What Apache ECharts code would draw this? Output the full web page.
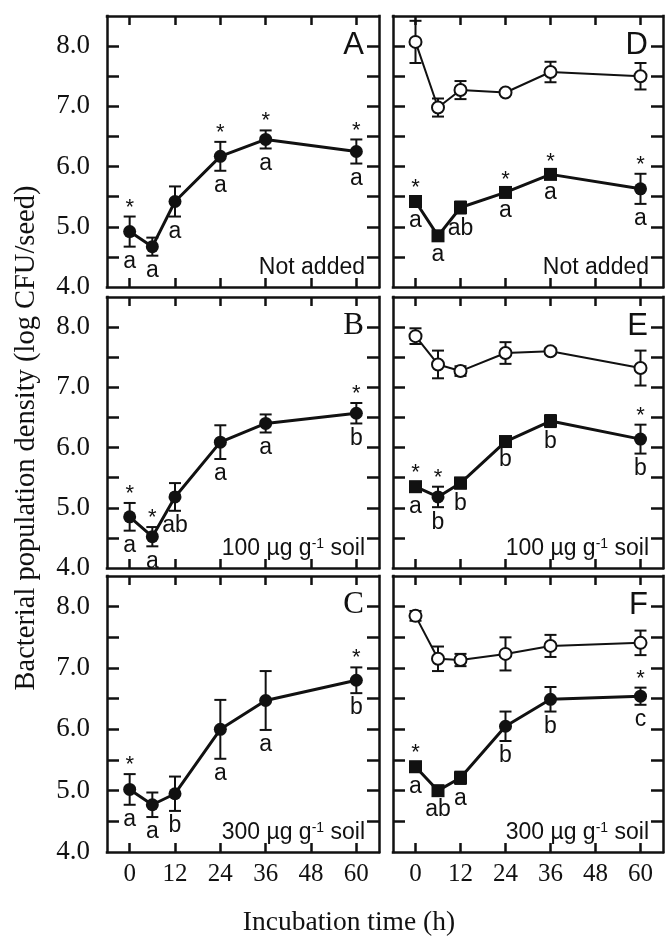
<!DOCTYPE html>
<html>
<head>
<meta charset="utf-8">
<title>Bacterial population density</title>
<script src="https://cdn.jsdelivr.net/npm/echarts@6/dist/echarts.min.js"></script>
<style>
  html, body { margin: 0; padding: 0; background: #fff; }
  #chart { width: 667px; height: 941px; }
</style>
</head>
<body>
<div id="chart"></div>
<script>
// sampling times (h) and axis ticks
const hours = [0, 6, 12, 24, 36, 60];
const xTickValues = [0, 12, 24, 36, 48, 60];
const yTickValues = [4.5, 5, 5.5, 6, 6.5, 7, 7.5, 8];
const yLabelValues = [4, 5, 6, 7, 8];

// A - not added
const meanA = [4.92, 4.67, 5.42, 6.17, 6.45, 6.25];
const errA = [0.25, 0.15, 0.25, 0.24, 0.15, 0.2];
const starA = ['*', '', '', '*', '*', '*'];
const letterA = ['a', 'a', 'a', 'a', 'a', 'a'];

// B - 100 ug/g soil
const meanB = [4.85, 4.52, 5.18, 6.09, 6.4, 6.57];
const errB = [0.23, 0.16, 0.23, 0.28, 0.15, 0.17];
const starB = ['*', '*', '', '', '', '*'];
const letterB = ['a', 'a', 'ab', 'a', 'a', 'b'];

// C - 300 ug/g soil
const meanC = [5.02, 4.77, 4.95, 6.0, 6.47, 6.8];
const errC = [0.25, 0.2, 0.28, 0.48, 0.48, 0.21];
const starC = ['*', '', '', '', '', '*'];
const letterC = ['a', 'a', 'b', 'a', 'a', 'b'];

// D - not added (open = upper series, filled = lower series)
const meanDOpen = [8.07, 6.98, 7.27, 7.23, 7.57, 7.5];
const errDOpen = [0.35, 0.15, 0.15, 0.03, 0.17, 0.22];
const meanDFill = [5.42, 4.85, 5.32, 5.57, 5.87, 5.63];
const errDFill = [0.07, 0.07, 0.1, 0.06, 0.06, 0.25];
const starD = ['*', '', '', '*', '*', '*'];
const letterD = ['a', 'a', 'ab', 'a', 'a', 'a'];

// E - 100 ug/g soil
const meanEOpen = [7.85, 7.38, 7.27, 7.57, 7.6, 7.32];
const errEOpen = [0.13, 0.23, 0.08, 0.18, 0.05, 0.29];
const meanEFill = [5.35, 5.18, 5.41, 6.1, 6.44, 6.14];
const errEFill = [0.08, 0.17, 0.09, 0.06, 0.1, 0.24];
const starE = ['*', '*', '', '', '', '*'];
const letterE = ['a', 'b', 'b', 'b', 'b', 'b'];

// F - 300 ug/g soil
const meanFOpen = [7.85, 7.15, 7.13, 7.23, 7.36, 7.41];
const errFOpen = [0.08, 0.2, 0.1, 0.27, 0.18, 0.2];
const meanFFill = [5.39, 5.0, 5.21, 6.05, 6.49, 6.54];
const errFFill = [0.08, 0.07, 0.1, 0.24, 0.2, 0.14];
const starF = ['*', '', '', '', '', '*'];
const letterF = ['a', 'ab', 'a', 'b', 'b', 'c'];

// marker shapes of the filled series in the right column
const markerD = ['rect', 'rect', 'rect', 'rect', 'rect', 'circle'];
const markerE = ['rect', 'circle', 'rect', 'rect', 'rect', 'circle'];
const markerF = ['rect', 'rect', 'rect', 'circle', 'circle', 'circle'];
const markerRound = ['circle', 'circle', 'circle', 'circle', 'circle', 'circle'];

const ink = '#111';
const serif = '"Liberation Serif", "Times New Roman", serif';
const sans = '"Liberation Sans", Arial, sans-serif';

const colLeft = [107, 393];
const colWidth = [272, 270];
const rowTop = [16, 297, 576];
const rowHeight = [271, 271, 276];

const noteSoil100 = '{n|100 µg g}{s|-1}{n| soil}';
const noteSoil300 = '{n|300 µg g}{s|-1}{n| soil}';

const panels = [
  { tag: 'A', tagFont: sans, col: 0, row: 0, note: 'Not added',
    lines: [{ mean: meanA, err: errA, marker: markerRound, open: false, stars: starA, letters: letterA }] },
  { tag: 'B', tagFont: serif, col: 0, row: 1, note: noteSoil100,
    lines: [{ mean: meanB, err: errB, marker: markerRound, open: false, stars: starB, letters: letterB }] },
  { tag: 'C', tagFont: serif, col: 0, row: 2, note: noteSoil300,
    lines: [{ mean: meanC, err: errC, marker: markerRound, open: false, stars: starC, letters: letterC }] },
  { tag: 'D', tagFont: sans, col: 1, row: 0, note: 'Not added',
    lines: [{ mean: meanDOpen, err: errDOpen, marker: markerRound, open: true },
            { mean: meanDFill, err: errDFill, marker: markerD, open: false, stars: starD, letters: letterD }] },
  { tag: 'E', tagFont: sans, col: 1, row: 1, note: noteSoil100,
    lines: [{ mean: meanEOpen, err: errEOpen, marker: markerRound, open: true },
            { mean: meanEFill, err: errEFill, marker: markerE, open: false, stars: starE, letters: letterE }] },
  { tag: 'F', tagFont: sans, col: 1, row: 2, note: noteSoil300,
    lines: [{ mean: meanFOpen, err: errFOpen, marker: markerRound, open: true },
            { mean: meanFFill, err: errFFill, marker: markerF, open: false, stars: starF, letters: letterF }] }
];

const xMin = -6, xMax = 66, yMin = 4, yMax = 8.5;
const frameStyle = { color: ink, width: 2.5, cap: 'square' };

const grids = [];
const xAxes = [];
const yAxes = [];
const series = [];
const graphics = [];

panels.forEach((p, i) => {
  const left = colLeft[p.col];
  const top = rowTop[p.row];
  const width = colWidth[p.col];
  const height = rowHeight[p.row];

  grids.push({ left: left, top: top, width: width, height: height, show: false });

  // four axis lines make the panel frame, ticks point inward
  ['bottom', 'top'].forEach(pos => {
    xAxes.push({
      type: 'value', gridIndex: i, position: pos, min: xMin, max: xMax,
      axisLine: { show: true, onZero: false, lineStyle: frameStyle },
      splitLine: { show: false },
      axisTick: { show: true, inside: true, length: 9, customValues: xTickValues,
                  lineStyle: { color: ink, width: 2.5 } },
      axisLabel: {
        show: pos === 'bottom' && p.row === 2,
        customValues: xTickValues,
        margin: 10,
        color: ink, fontFamily: serif, fontSize: 25
      }
    });
  });

  ['left', 'right'].forEach(pos => {
    yAxes.push({
      type: 'value', gridIndex: i, position: pos, min: yMin, max: yMax,
      axisLine: { show: true, onZero: false, lineStyle: frameStyle },
      splitLine: { show: false },
      axisTick: { show: true, inside: true, length: 12, customValues: yTickValues,
                  lineStyle: { color: ink, width: 2.5 } },
      axisLabel: {
        show: pos === 'left' && p.col === 0,
        customValues: yLabelValues,
        formatter: v => v.toFixed(1),
        margin: 17,
        color: ink, fontFamily: serif, fontSize: 27
      }
    });
  });

  const xi = i * 2;
  const yi = i * 2;

  p.lines.forEach(ln => {
    // error bars
    series.push({
      type: 'custom', xAxisIndex: xi, yAxisIndex: yi, z: 2, silent: true, clip: false,
      data: hours.map((h, k) => [h, ln.mean[k] - ln.err[k], ln.mean[k] + ln.err[k]]),
      renderItem: (params, api) => {
        const hi = api.coord([api.value(0), api.value(2)]);
        const lo = api.coord([api.value(0), api.value(1)]);
        const cw = 6;
        const st = { stroke: ink, lineWidth: 2 };
        return {
          type: 'group',
          children: [
            { type: 'line', shape: { x1: hi[0], y1: hi[1], x2: lo[0], y2: lo[1] }, style: st },
            { type: 'line', shape: { x1: hi[0] - cw, y1: hi[1], x2: hi[0] + cw, y2: hi[1] }, style: st },
            { type: 'line', shape: { x1: lo[0] - cw, y1: lo[1], x2: lo[0] + cw, y2: lo[1] }, style: st }
          ]
        };
      }
    });

    // means
    series.push({
      type: 'line', xAxisIndex: xi, yAxisIndex: yi, z: 3, silent: true,
      data: hours.map((h, k) => ({ value: [h, ln.mean[k]], symbol: ln.marker[k] })),
      symbolSize: ln.open ? 12 : 13,
      lineStyle: { color: ink, width: ln.open ? 2 : 3 },
      itemStyle: ln.open
        ? { color: '#fff', borderColor: ink, borderWidth: 2 }
        : { color: ink, borderColor: ink, borderWidth: 0 }
    });

    // significance marks (* above, letters below)
    if (ln.stars) {
      series.push({
        type: 'custom', xAxisIndex: xi, yAxisIndex: yi, z: 4, silent: true, clip: false,
        data: hours.map((h, k) => [h, ln.mean[k] - ln.err[k], ln.mean[k] + ln.err[k]]),
        renderItem: (params, api) => {
          const k = params.dataIndex;
          const hi = api.coord([api.value(0), api.value(2)]);
          const lo = api.coord([api.value(0), api.value(1)]);
          return {
            type: 'group',
            children: [
              { type: 'text', x: hi[0], y: hi[1] - 9,
                style: { text: ln.stars[k], fill: ink, font: '22px ' + sans, align: 'center', verticalAlign: 'middle' } },
              { type: 'text', x: lo[0], y: lo[1] + 15,
                style: { text: ln.letters[k], fill: ink, font: '23px ' + sans, align: 'center', verticalAlign: 'middle' } }
            ]
          };
        }
      });
    }
  });

  // panel letter
  graphics.push({
    type: 'text', x: left + width - 15, y: top + 29,
    style: { text: p.tag, fill: ink, fontFamily: p.tagFont, fontSize: 31, align: 'right', verticalAlign: 'middle' }
  });
  // treatment note
  graphics.push({
    type: 'text', x: left + width - 14, y: top + height - 8,
    style: {
      text: p.note, fill: ink, align: 'right', verticalAlign: 'bottom',
      fontFamily: sans, fontSize: 23,
      rich: {
        n: { fontFamily: sans, fontSize: 23, fill: ink, verticalAlign: 'bottom' },
        s: { fontFamily: sans, fontSize: 14, fill: ink, verticalAlign: 'top' }
      }
    }
  });
});

// axis titles
graphics.push({
  type: 'text', x: 27, y: 438, rotation: Math.PI / 2,
  style: { text: 'Bacterial population density (log CFU/seed)', fill: ink, fontFamily: serif, fontSize: 28.5, align: 'center', verticalAlign: 'middle' }
});
graphics.push({
  type: 'text', x: 349, y: 923,
  style: { text: 'Incubation time (h)', fill: ink, fontFamily: serif, fontSize: 27.5, align: 'center', verticalAlign: 'middle' }
});

const chart = echarts.init(document.getElementById('chart'), null, { renderer: 'canvas' });
chart.setOption({
  backgroundColor: '#fff',
  animation: false,
  grid: grids,
  xAxis: xAxes,
  yAxis: yAxes,
  series: series,
  graphic: graphics
});
</script>
</body>
</html>
